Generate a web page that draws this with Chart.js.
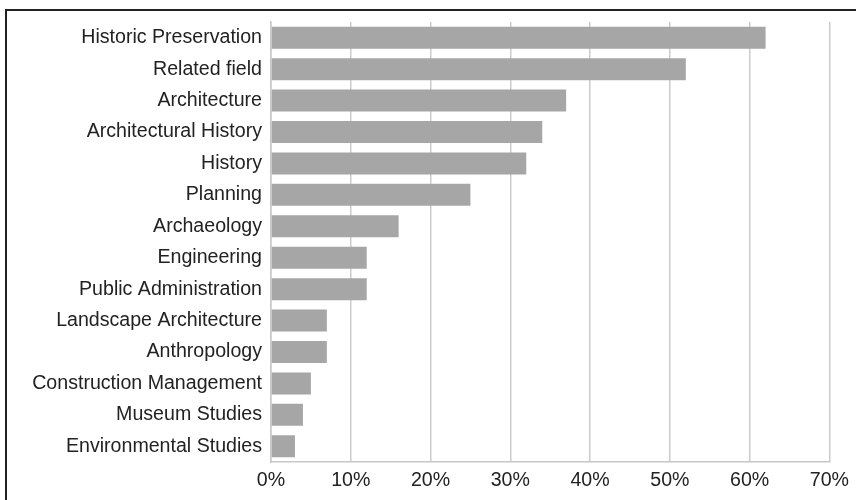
<!DOCTYPE html>
<html>
<head>
<meta charset="utf-8">
<script src="https://cdn.jsdelivr.net/npm/chart.js@4"></script>
<style>
    html, body { margin: 0; padding: 0; background: #fff; overflow: hidden; }
    #wrap { position: relative; width: 856px; height: 500px; }
    #frame {
        position: absolute; left: 5px; top: 9px;
        width: 900px; height: 600px;
        border: 2px solid #222; box-sizing: border-box;
    }
    #chart { position: absolute; left: 0; top: 0; }
</style>
</head>
<body>
<div id="wrap">
    <div id="frame"></div>
    <canvas id="chart" width="856" height="500"></canvas>
</div>
<script>
// 学科背景分布
const fields = [
    'Historic Preservation', 'Related field', 'Architecture', 'Architectural History',
    'History', 'Planning', 'Archaeology', 'Engineering', 'Public Administration',
    'Landscape Architecture', 'Anthropology', 'Construction Management',
    'Museum Studies', 'Environmental Studies'
];
const shares = [62, 52, 37, 34, 32, 25, 16, 12, 12, 7, 7, 5, 4, 3];
const xTicks = [0, 10, 20, 30, 40, 50, 60, 70];

const labelFont = { family: '"Liberation Sans", Arial, Helvetica, sans-serif', size: 19.6 };

new Chart(document.getElementById('chart'), {
    type: 'bar',
    data: {
        labels: fields,
        datasets: [{
            data: shares,
            backgroundColor: '#a6a6a6',
            borderWidth: 0,
            barPercentage: 0.7,
            categoryPercentage: 1.0
        }]
    },
    options: {
        indexAxis: 'y',
        responsive: false,
        animation: false,
        layout: { padding: { top: 22, right: 25, left: 0, bottom: 0 } },
        plugins: {
            legend: { display: false },
            tooltip: { enabled: false }
        },
        scales: {
            x: {
                min: xTicks[0],
                max: xTicks[xTicks.length - 1],
                afterBuildTicks: (scale) => {
                    scale.ticks = xTicks.map(v => ({ value: v }));
                },
                afterFit: (scale) => { scale.height = 38; },
                grid: { color: '#cccccc', lineWidth: 1.5, drawTicks: false },
                border: { display: true, color: '#c8c8c8', width: 1.5 },
                ticks: {
                    padding: 7,
                    color: '#222',
                    font: labelFont,
                    callback: (v) => v + '%'
                }
            },
            y: {
                afterFit: (scale) => { scale.width = 271; },
                grid: { display: false, drawTicks: false },
                border: { display: true, color: '#c8c8c8', width: 1.5 },
                ticks: {
                    padding: 9,
                    color: '#222',
                    font: labelFont
                }
            }
        }
    }
});
</script>
</body>
</html>
